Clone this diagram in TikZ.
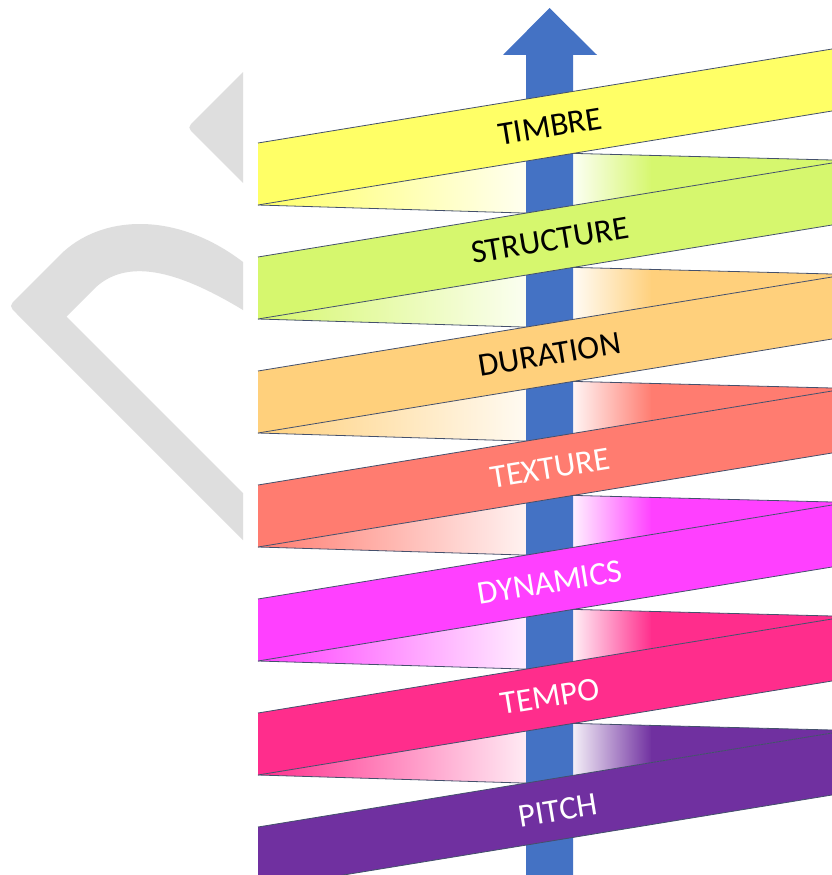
\documentclass[tikz,border=0pt]{standalone}
\usepackage{fontspec}
\setmainfont{Carlito}
\definecolor{cTimbre}{HTML}{FFFF66}
\definecolor{cStruct}{HTML}{D6F76E}
\definecolor{cDur}{HTML}{FFD07C}
\definecolor{cTex}{HTML}{FF7C70}
\definecolor{cDyn}{HTML}{FF40FF}
\definecolor{cTempo}{HTML}{FF2D8C}
\definecolor{cPitch}{HTML}{7030A0}
\definecolor{arrowblue}{HTML}{4472C4}
\definecolor{edgecol}{HTML}{44506C}
\definecolor{logogray}{HTML}{DEDEDE}
\begin{document}
\begin{tikzpicture}[x=1pt,y=-1pt,
  edge/.style={draw=edgecol, line width=0.8pt},
  lbl/.style={font=\fontsize{33}{33}\selectfont, rotate=9.3, inner sep=0pt}]
\useasboundingbox (0,0) rectangle (832,875);
\fill[white] (0,0) rectangle (832,875);
% watermark logo
\fill[logogray] (243,72) -- (195,120) .. controls (187.5,127.5) .. (195,135) -- (243,183) -- cycle;
\fill[logogray] (243,540) -- (17,314) .. controls (9,306) .. (17,298) -- (60,255)
  .. controls (100,215) and (175,210) .. (243,262) -- (243,310)
  .. controls (185,275) and (130,255) .. (95,288) -- (66.5,316.5) -- (243,493) -- cycle;
% left back wedges
\foreach \k/\c in {0/cTimbre,1/cStruct,2/cDur,3/cTex,4/cDyn,5/cTempo}{
  \pgfmathsetmacro\T{143+114*\k}
  \shade[left color=\c, right color=\c!10] (258,\T+62) -- (526,\T+18.1) -- (526,\T+70.1) -- cycle;
  \draw[edge] (258,\T+62) -- (526,\T+70.1);
}
% right back wedges
\foreach \k/\c in {1/cStruct,2/cDur,3/cTex,4/cDyn,5/cTempo,6/cPitch}{
  \pgfmathsetmacro\T{143+114*\k}
  \begin{scope}
    \clip (573,\T-103.6) -- (832,\T-97) -- (832,\T-94) -- (573,\T-51.6) -- cycle;
    \shade[left color=\c!8, right color=\c] (573,\T-160) rectangle (652,\T);
    \fill[\c] (651,\T-160) rectangle (833,\T);
  \end{scope}
  \draw[edge] (573,\T-103.6) -- (832,\T-97);
}
% arrow
\fill[arrowblue] (526,876) -- (526,55) -- (503,55) -- (549.5,8) -- (597,55) -- (573,55) -- (573,876) -- cycle;
% front bands
\foreach \k/\c/\lab/\tc/\tx in {0/cTimbre/TIMBRE/black/550,1/cStruct/STRUCTURE/black/550,2/cDur/DURATION/black/550,3/cTex/TEXTURE/white/550,4/cDyn/DYNAMICS/white/550,5/cTempo/TEMPO/white/550,6/cPitch/PITCH/white/558}{
  \pgfmathsetmacro\T{143+114*\k}
  \fill[\c] (258,\T) -- (832,\T-94) -- (832,\T-32) -- (258,\T+62) -- cycle;
  \draw[edge] (258,\T) -- (832,\T-94);
  \draw[edge] (258,\T+62) -- (832,\T-32);
  \node[lbl, text=\tc] (n\k) at (\tx,\T-16.6) {\lab};
}
\end{tikzpicture}
\end{document}
